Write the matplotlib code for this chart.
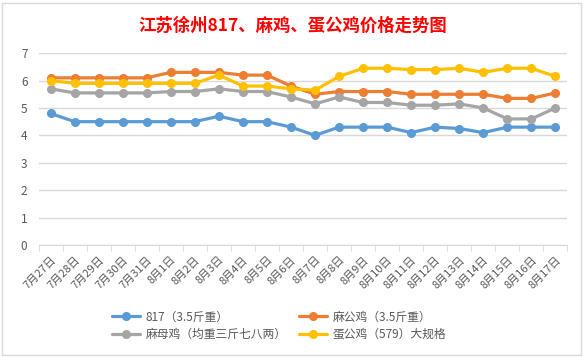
import numpy as np
import matplotlib
matplotlib.use("Agg")
from matplotlib import pyplot as plt
from matplotlib.patches import Rectangle

plt.rcParams['font.family'] = ['Noto Sans CJK SC', 'DejaVu Sans']

dates = ["7月27日", "7月28日", "7月29日", "7月30日", "7月31日",
         "8月1日", "8月2日", "8月3日", "8月4日", "8月5日", "8月6日", "8月7日",
         "8月8日", "8月9日", "8月10日", "8月11日", "8月12日", "8月13日",
         "8月14日", "8月15日", "8月16日", "8月17日"]

s817 = [4.8, 4.5, 4.5, 4.5, 4.5, 4.5, 4.5, 4.7, 4.5, 4.5, 4.3, 4.0,
        4.3, 4.3, 4.3, 4.1, 4.3, 4.25, 4.1, 4.3, 4.3, 4.3]
ma_gong = [6.1, 6.1, 6.1, 6.1, 6.1, 6.3, 6.3, 6.3, 6.2, 6.2, 5.8, 5.5,
           5.6, 5.6, 5.6, 5.5, 5.5, 5.5, 5.5, 5.35, 5.35, 5.55]
ma_mu = [5.7, 5.55, 5.55, 5.55, 5.55, 5.6, 5.6, 5.7, 5.6, 5.6, 5.4, 5.15,
         5.4, 5.2, 5.2, 5.1, 5.1, 5.15, 5.0, 4.6, 4.6, 5.0]
dan_gong = [6.0, 5.9, 5.9, 5.9, 5.9, 5.9, 5.9, 6.2, 5.8, 5.8, 5.7, 5.65,
            6.15, 6.45, 6.45, 6.4, 6.4, 6.45, 6.3, 6.45, 6.45, 6.15]

names = ["817（3.5斤重）", "麻公鸡（3.5斤重）", "麻母鸡（均重三斤七八两）", "蛋公鸡（579）大规格"]
colors = ["#5B9BD5", "#ED7D31", "#A5A5A5", "#FFC000"]

fig = plt.figure(figsize=(5.85, 3.57), dpi=100)
ax = fig.add_axes([0.066, 0.314, 0.904, 0.537])

x = np.arange(len(dates))
lines = []
for ys, name, c in zip([s817, ma_gong, ma_mu, dan_gong], names, colors):
    ln, = ax.plot(x, ys, color=c, lw=2.3, marker='o', ms=5.5, label=name,
                  solid_capstyle='round')
    lines.append(ln)

ax.set_xlim(-0.5, len(dates) - 0.5)
ax.set_ylim(0, 7)
ax.set_yticks(range(0, 8))
ax.grid(axis='y', color='#D9D9D9', lw=1)
ax.set_axisbelow(True)
for s in ['top', 'right', 'left']:
    ax.spines[s].set_visible(False)
ax.spines['bottom'].set_color('#D9D9D9')

ax.set_xticks(x)
ax.set_xticklabels(dates, rotation=45, ha='right', rotation_mode='anchor')
ax.set_xticks(np.arange(-0.5, len(dates)), minor=True)
ax.tick_params(axis='x', which='major', length=0, labelsize=8,
               colors='#595959', pad=7)
ax.tick_params(axis='x', which='minor', length=4, color='#D9D9D9')
ax.tick_params(axis='y', length=0, labelsize=8.5, colors='#595959', pad=8)

fig.text(0.5, 0.927, "江苏徐州817、麻鸡、蛋公鸡价格走势图", color='red',
         fontsize=12.5, fontweight='bold', ha='center', va='center')

# legend row order: 817 / 麻公鸡 then 麻母鸡 / 蛋公鸡
order = [0, 2, 1, 3]
fig.legend([lines[i] for i in order], [names[i] for i in order],
           loc='center', bbox_to_anchor=(0.477, 0.088), ncol=2, frameon=False,
           fontsize=8.5, labelcolor='#595959', handlelength=2.4,
           columnspacing=1.0, handletextpad=0.5, labelspacing=0.35)

fig.patches.append(Rectangle((0.004, 0.006), 0.99, 0.986, transform=fig.transFigure,
                             fill=False, edgecolor='#D9D9D9', lw=1))

fig.savefig("out.png", dpi=100)
